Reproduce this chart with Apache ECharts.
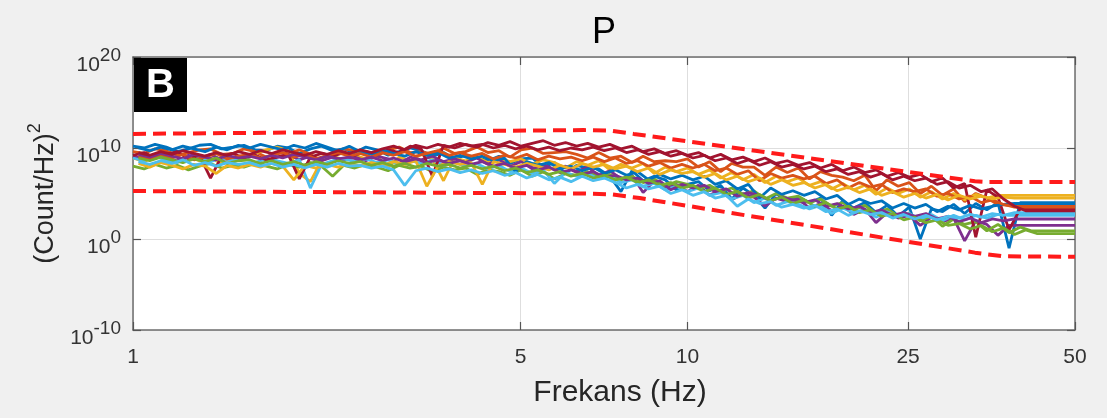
<!DOCTYPE html>
<html><head><meta charset="utf-8">
<script src="https://cdn.jsdelivr.net/npm/echarts@6/dist/echarts.min.js"></script>
<style>html,body{margin:0;padding:0;background:#f0f0f0}#c{width:1107px;height:418px}</style>
</head><body><div id="c"></div>
<script>
// Frequency grids (Hz)
const freqsA = [1.00,1.047,1.096,1.148,1.202,1.259,1.318,1.380,1.445,1.514,
1.585,1.660,1.738,1.820,1.905,1.995,2.089,2.188,2.291,2.399,
2.512,2.630,2.754,2.884,3.020,3.162,3.311,3.467,3.631,3.802,
3.981,4.169,4.365,4.571,4.786,5.012,5.248,5.495,5.754,6.026,
6.310,6.607,6.918,7.244,7.586,7.943,8.318,8.710,9.120,9.550,
10.00,10.47,10.96,11.48,12.02,12.59,13.18,13.80,14.45,15.14,
15.85,16.60,17.38,18.20,19.05,19.95,20.89,21.88,22.91,23.99,
25.12,26.30,27.54,28.84,30.20,31.62,33.11,34.67,36.31,38.02,
39.81,41.69,43.65,45.71,47.86,50.00];
const freqsB = [1.023,1.072,1.122,1.175,1.230,1.288,1.349,1.413,1.479,1.549,
1.622,1.698,1.778,1.862,1.950,2.042,2.138,2.239,2.344,2.455,
2.570,2.692,2.818,2.951,3.090,3.236,3.388,3.548,3.715,3.890,
4.074,4.266,4.467,4.677,4.898,5.129,5.370,5.623,5.888,6.166,
6.457,6.761,7.079,7.413,7.762,8.128,8.511,8.913,9.333,9.772,
10.23,10.72,11.22,11.75,12.30,12.88,13.49,14.13,14.79,15.49,
16.22,16.98,17.78,18.62,19.50,20.42,21.38,22.39,23.44,24.55,
25.70,26.92,28.18,29.51,30.90,32.36,33.88,35.48,37.15,38.90,
40.74,42.66,44.67,46.77,48.98,50.00];

const xTicks = [1,5,10,25,50];
const yTicks = [1e-10,1,1e10,1e20];

// Series values, log10 of (Count/Hz)^2 — first colour cycle (on freqsA)
const blueA = [10.2,10.0,10.4,10.1,9.6,9.9,10.3,10.4,9.9,10.1,
10.3,9.8,9.7,10.2,10.0,9.4,9.9,10.2,9.7,9.9,
9.5,10.1,9.8,9.2,9.6,10.0,9.7,9.1,9.5,8.8,
9.2,9.0,8.6,9.1,8.3,8.8,8.9,7.9,8.4,7.2,
8.1,7.8,7.7,6.9,5.2,7.5,6.4,6.9,6.5,5.4,
6.0,6.3,5.3,5.9,4.4,5.6,4.8,3.4,5.0,4.1,
4.6,4.0,4.5,2.6,4.2,3.4,4.0,2.9,3.7,2.5,
3.5,0.0,3.3,3.0,3.8,2.8,3.9,3.2,4.0,-1.0,
4.0,4.0,4.0,4.0,4.0,4.0];
const orangeA = [9.6,9.4,9.9,9.7,9.2,9.5,9.8,9.9,9.3,9.4,
9.9,9.6,9.0,9.5,9.4,9.8,9.3,8.6,9.4,9.9,
9.7,9.6,9.1,9.8,10.1,9.5,9.6,9.3,10.0,9.4,
9.6,10.1,9.5,9.7,9.0,9.8,10.0,9.4,9.5,9.6,
9.3,8.9,9.5,8.9,9.1,8.4,9.1,8.5,8.6,8.5,
8.8,7.9,8.5,7.4,8.3,7.9,7.9,7.0,7.9,7.3,
7.8,6.6,7.4,7.0,6.8,6.4,7.0,5.3,6.5,5.8,
6.2,5.0,5.8,4.8,5.5,4.1,5.0,4.5,3.8,3.7,
3.7,3.7,3.7,3.7,3.7,3.7];
const yellowA = [8.9,8.5,9.1,8.7,8.4,9.0,8.6,8.9,8.3,8.8,
9.0,9.4,9.8,10.1,9.7,7.2,6.3,8.6,9.1,8.7,
9.2,8.8,9.1,7.9,9.0,8.6,9.3,8.8,6.4,8.9,
8.6,9.0,8.4,8.9,8.5,8.8,8.2,8.7,8.4,7.8,
8.5,8.1,8.6,7.6,8.2,7.8,8.3,7.2,7.9,7.4,
7.8,7.1,7.6,6.7,7.3,6.5,7.1,6.2,6.9,6.3,
6.7,5.9,6.3,5.5,6.1,5.4,5.9,4.9,5.6,5.0,
5.5,4.6,5.2,4.4,5.0,4.3,4.9,4.5,4.8,4.8,
4.8,4.8,4.8,4.8,4.8,4.8];
const purpleA = [9.1,8.8,9.3,8.9,8.6,9.2,8.9,9.3,8.7,9.0,
8.8,9.2,8.6,9.0,9.3,8.7,9.1,8.6,9.0,8.7,
9.0,8.6,9.1,8.8,8.3,9.0,8.7,9.1,8.5,8.8,
8.4,8.9,8.2,8.7,8.0,8.5,7.7,8.2,7.6,8.0,
7.4,7.9,7.0,7.5,6.6,7.0,5.1,6.4,5.5,6.0,
5.2,5.9,4.8,5.4,4.3,5.0,4.6,3.6,4.5,4.1,
4.4,3.4,3.9,3.1,3.6,2.7,3.3,1.8,2.9,2.3,
2.6,1.5,2.4,1.9,2.3,-0.2,2.0,1.6,0.4,1.5,
1.5,1.5,1.5,1.5,1.5,1.5];
const greenA = [8.0,7.7,8.2,7.8,8.1,7.6,8.0,8.3,7.8,8.1,
7.9,8.3,8.0,7.7,8.2,7.9,8.4,8.0,6.9,8.1,
7.8,8.2,7.9,7.5,8.1,7.8,8.0,7.4,7.9,7.6,
7.8,7.1,7.6,7.4,7.0,7.6,6.9,7.4,6.6,7.2,
7.0,7.4,6.8,7.1,6.5,6.9,6.2,6.6,5.8,6.3,
6.0,5.5,5.9,5.2,5.6,4.9,5.3,4.4,5.0,4.5,
4.7,4.0,4.4,3.6,4.0,3.2,3.7,2.8,3.3,2.5,
2.8,2.0,2.5,1.4,2.2,1.6,1.9,0.9,1.6,0.7,
1.3,0.9,0.9,0.9,0.9,0.9];
const lightBlueA = [8.9,8.6,9.1,8.7,8.4,9.0,8.8,8.5,8.9,8.6,
8.9,8.4,8.8,8.6,8.3,8.7,5.6,8.2,8.6,8.8,
8.5,8.8,8.4,8.7,8.2,8.6,8.3,8.7,8.1,8.4,
8.0,8.3,7.7,8.1,7.4,7.8,7.2,7.6,6.1,7.3,
6.9,7.2,6.6,6.9,6.2,6.5,5.8,6.1,5.4,5.8,
5.2,5.6,4.8,5.1,4.4,4.8,4.0,4.5,3.7,4.1,
3.8,3.3,3.7,2.8,3.4,2.9,3.2,2.4,3.0,2.5,
2.8,2.2,2.7,2.0,2.6,2.1,2.6,2.3,2.7,2.6,
2.6,2.6,2.6,2.6,2.6,2.6];
const darkRedA = [9.2,9.5,8.9,9.3,9.6,8.8,9.2,6.7,9.1,9.4,
8.9,9.2,8.7,9.0,9.3,6.6,9.0,9.4,9.1,9.5,
9.2,9.6,9.3,9.8,9.5,10.2,9.9,6.9,10.3,10.0,
10.4,10.1,10.6,10.3,10.7,10.2,10.5,10.8,10.3,10.6,
10.2,10.5,10.1,10.4,9.9,10.2,9.6,9.9,9.4,9.7,
9.2,9.5,8.9,9.3,8.7,9.0,8.5,8.9,8.3,8.6,
8.1,8.4,7.8,8.2,7.5,7.9,7.3,7.6,6.9,7.3,
6.8,7.1,6.3,6.7,5.6,6.1,0.2,5.4,4.6,1.0,
3.3,3.3,3.3,3.3,3.3,3.3];

// Second colour cycle (on freqsB)
const blueB = [10.0,9.7,10.1,9.8,10.2,9.9,9.6,10.1,9.8,10.3,
10.0,10.4,10.1,9.8,10.3,10.0,10.5,10.1,9.7,10.2,
9.6,9.3,9.8,9.4,9.1,9.6,9.2,9.5,8.9,9.2,
8.8,9.1,8.6,8.9,7.4,8.5,8.1,8.4,7.7,8.0,
7.5,7.9,7.2,7.6,7.0,7.4,6.5,7.1,6.6,7.0,
6.5,6.9,6.0,6.4,5.5,6.0,4.5,5.6,4.9,5.3,
4.8,5.2,4.4,4.8,3.8,4.4,3.9,4.2,3.4,3.9,
3.4,3.8,3.0,3.6,3.2,3.7,3.3,3.6,3.8,3.9,
3.9,3.9,3.9,3.9,3.9,3.9];
const orangeB = [9.1,8.8,9.2,8.9,9.3,8.7,9.0,9.4,8.8,9.1,
9.3,8.9,9.2,9.5,9.0,9.3,8.8,9.2,9.5,9.1,
9.4,9.0,9.5,9.2,9.6,9.1,9.4,9.7,9.2,9.5,
9.1,9.4,8.8,9.2,8.9,9.3,8.7,9.1,8.8,9.0,
8.6,9.0,8.5,8.9,8.3,8.6,8.0,8.4,7.8,8.2,
7.8,8.2,7.5,7.8,7.1,7.5,6.4,7.2,6.7,7.0,
6.6,6.9,6.1,6.5,5.6,6.2,5.7,6.0,5.1,5.5,
5.2,5.5,4.7,5.0,4.4,4.7,4.0,4.3,3.8,3.5,
3.5,3.5,3.5,3.5,3.5,3.5];
const yellowB = [8.3,7.9,8.4,8.1,7.7,8.2,8.0,7.2,8.1,7.8,
8.2,7.9,8.3,8.0,6.5,8.1,7.8,8.2,7.9,8.3,
8.0,8.4,8.1,8.5,8.2,8.6,5.8,8.0,8.5,8.2,
8.4,6.0,8.5,8.2,7.9,8.3,8.0,7.6,8.1,7.7,
8.3,7.9,8.2,7.7,8.0,7.4,7.8,7.1,7.6,7.2,
7.4,6.8,7.2,6.5,6.9,6.3,6.7,6.0,6.5,5.9,
6.2,5.6,6.0,5.3,5.7,5.1,5.5,4.8,5.2,4.6,
5.0,4.5,4.9,4.3,4.8,4.4,4.7,4.4,4.6,4.5,
4.5,4.5,4.5,4.5,4.5,4.5];
const purpleB = [9.3,9.0,9.4,9.1,8.8,9.3,9.0,8.7,9.2,8.9,
9.1,8.8,9.2,8.9,9.3,9.0,8.7,9.1,8.8,9.0,
8.7,9.0,8.6,8.9,8.5,8.8,8.4,8.7,8.3,8.6,
8.2,8.5,8.0,8.3,7.8,8.1,7.6,7.9,7.3,7.6,
7.1,7.4,6.8,7.0,6.5,6.7,6.1,6.4,5.4,6.0,
5.6,5.9,5.2,5.5,4.7,5.1,4.8,4.2,4.6,4.3,
4.0,4.3,3.6,3.9,3.3,3.6,2.9,3.2,2.6,2.9,
2.5,2.8,2.2,2.5,1.9,2.3,1.8,2.2,2.0,2.2,
2.2,2.2,2.2,2.2,2.2,2.2];
const greenB = [8.9,8.6,9.0,8.7,8.4,8.8,8.5,8.9,8.3,8.6,
8.7,8.3,8.6,8.2,8.5,8.1,8.5,8.2,8.6,8.3,
8.5,8.1,8.4,8.0,8.3,7.9,8.3,8.0,8.2,7.8,
8.1,7.7,8.0,7.5,7.8,7.3,7.6,7.1,7.4,6.9,
7.2,6.7,7.0,6.5,6.8,6.2,6.5,5.9,6.2,5.6,
5.9,5.2,5.6,4.9,5.2,4.5,4.9,4.2,4.6,3.9,
4.3,3.6,4.0,3.3,3.6,2.9,3.2,2.5,2.8,2.1,
2.4,1.8,2.1,1.5,1.7,1.1,1.5,0.8,1.2,0.5,
1.0,0.6,0.6,0.6,0.6,0.6];
const lightBlueB = [8.5,8.2,8.6,8.3,8.7,8.1,8.4,8.0,8.4,8.2,
8.4,8.0,8.3,7.9,8.2,7.8,8.2,7.9,8.3,8.0,
8.1,7.8,8.0,7.6,5.9,7.5,7.8,7.4,7.7,7.3,
7.6,7.2,7.5,7.0,7.3,6.7,7.1,6.5,6.8,6.3,
6.9,6.4,6.7,6.2,5.6,6.0,5.5,5.8,5.0,5.4,
4.8,5.2,4.5,4.8,3.6,4.4,3.9,4.1,3.5,3.8,
3.4,3.7,3.0,3.3,2.6,3.1,2.7,2.9,2.3,2.7,
2.2,2.6,2.1,2.5,2.3,2.7,2.4,2.8,2.6,2.9,
2.9,2.9,2.9,2.9,2.9,2.9];
const darkRedB = [9.5,9.2,9.6,9.3,9.7,9.4,9.1,9.5,9.2,9.6,
9.3,9.7,9.4,9.8,9.5,9.2,9.6,9.3,9.7,9.4,
9.8,9.5,9.9,10.2,9.8,10.3,10.0,10.4,10.1,10.5,
10.2,10.4,10.0,10.3,9.9,10.2,9.8,10.1,9.7,10.0,
9.8,10.1,9.7,10.0,9.5,9.8,9.3,9.6,9.1,9.4,
8.9,9.2,8.6,8.9,8.3,8.7,8.1,8.5,7.9,8.2,
7.7,8.0,7.4,7.7,7.1,7.4,6.8,7.2,6.5,6.9,
6.4,6.7,6.0,6.3,5.6,5.9,5.2,5.5,4.4,3.6,
3.1,3.1,3.1,3.1,3.1,3.1];

// Envelope (red dashed)
const upperFreq = [1,6.5,7.3,8,33,35,50];
const upperExp = [11.55,11.97,11.9,11.55,6.35,6.26,6.26];
const lowerFreq = [1,6.5,7.3,8.2,33,37,50];
const lowerExp = [5.27,5.0,4.9,4.5,-1.5,-1.9,-1.95];

const FONT = "'Liberation Sans', Arial, Helvetica, sans-serif";
const C = {blue:'#0072BD', orange:'#D95319', yellow:'#EDB120', purple:'#7E2F8E', green:'#77AC30', lightBlue:'#4DBEEE', darkRed:'#A2142F'};
const traces = [
  {color:C.blue, f:freqsA, exp:blueA}, {color:C.orange, f:freqsA, exp:orangeA},
  {color:C.yellow, f:freqsA, exp:yellowA}, {color:C.purple, f:freqsA, exp:purpleA},
  {color:C.green, f:freqsA, exp:greenA}, {color:C.lightBlue, f:freqsA, exp:lightBlueA},
  {color:C.darkRed, f:freqsA, exp:darkRedA},
  {color:C.blue, f:freqsB, exp:blueB}, {color:C.orange, f:freqsB, exp:orangeB},
  {color:C.yellow, f:freqsB, exp:yellowB}, {color:C.purple, f:freqsB, exp:purpleB},
  {color:C.green, f:freqsB, exp:greenB}, {color:C.lightBlue, f:freqsB, exp:lightBlueB},
  {color:C.darkRed, f:freqsB, exp:darkRedB}
];
const toPts = (fs, es) => fs.map((f, i) => [f, Math.pow(10, es[i])]);

const series = traces.map((t, i) => ({
  type:'line', name:'s' + (i + 1), data: toPts(t.f, t.exp),
  xAxisIndex:0, yAxisIndex:0, showSymbol:false, symbol:'none', z:2 + i * 0.01,
  lineStyle:{color:t.color, width:2.8}, itemStyle:{color:t.color},
  animation:false, silent:true
}));
[[upperFreq, upperExp], [lowerFreq, lowerExp]].forEach((p, i) => {
  series.push({
    type:'line', name: i ? 'lower' : 'upper', data: toPts(p[0], p[1]),
    showSymbol:false, symbol:'none', z:5,
    lineStyle:{color:'#ff1a1a', width:4, type:[13,7]},
    animation:false, silent:true
  });
});

const baseX = {
  type:'log', logBase:10, min:1, max:50,
  axisLine:{show:true, onZero:false, lineStyle:{color:'#6e6e6e', width:1.5}},
  axisTick:{show:true, inside:true, length:8, customValues:xTicks, lineStyle:{color:'#555', width:1.2}},
  minorTick:{show:false}, minorSplitLine:{show:false}
};
const baseY = {
  type:'log', logBase:10, min:1e-10, max:1e20, interval:10,
  axisLine:{show:true, onZero:false, lineStyle:{color:'#6e6e6e', width:1.5}},
  axisTick:{show:true, inside:true, length:8, customValues:yTicks, lineStyle:{color:'#555', width:1.2}},
  minorTick:{show:false}, minorSplitLine:{show:false}
};

const option = {
  backgroundColor:'#f0f0f0',
  animation:false,
  grid:{left:133, top:57, right:32, bottom:88, containLabel:false, show:true, backgroundColor:'#ffffff', borderWidth:0},
  xAxis:[
    Object.assign({}, baseX, {
      position:'bottom',
      axisLabel:{show:true, customValues:xTicks, formatter: v => String(Math.round(v)), fontSize:21, color:'#333', margin:17, fontFamily:FONT},
      splitLine:{show:true, lineStyle:{color:'#dedede', width:1}},
      name:'Frekans (Hz)', nameLocation:'middle', nameGap:48,
      nameTextStyle:{fontSize:30, color:'#262626', fontFamily:FONT, padding:[0,0,0,32]}
    }),
    Object.assign({}, baseX, {position:'top', axisLabel:{show:false}, splitLine:{show:false}})
  ],
  yAxis:[
    Object.assign({}, baseY, {
      position:'left',
      axisLabel:{show:true, customValues:yTicks, margin:12,
        formatter: v => '{b|10}{s|' + Math.round(Math.log10(v)) + '}',
        rich:{
          b:{fontSize:21, color:'#333', fontFamily:FONT, padding:[16,0,0,0]},
          s:{fontSize:19, color:'#333', fontFamily:FONT, padding:[0,0,2,0]}
        }},
      splitLine:{show:true, lineStyle:{color:'#dedede', width:1}},
      name:'{n|(Count/Hz)}{p|2}', nameLocation:'middle', nameGap:74, nameRotate:90,
      nameTextStyle:{rich:{
        n:{fontSize:27, color:'#262626', fontFamily:FONT, padding:[10,0,0,0]},
        p:{fontSize:18, color:'#262626', fontFamily:FONT, padding:[0,0,10,0]}
      }}
    }),
    Object.assign({}, baseY, {position:'right', axisLabel:{show:false}, splitLine:{show:false}})
  ],
  graphic:[
    {type:'text', x:604, y:33, z:100, style:{text:'P', fontSize:36, fill:'#000', align:'center', verticalAlign:'middle', fontFamily:FONT}},
    {type:'rect', z:100, shape:{x:134, y:58, width:53, height:54}, style:{fill:'#000'}},
    {type:'text', x:160.5, y:86, z:101, style:{text:'B', fontSize:40, fontWeight:'bold', fill:'#fff', align:'center', verticalAlign:'middle', fontFamily:FONT}}
  ],
  series: series
};
const chart = echarts.init(document.getElementById('c'), null, {renderer:'canvas'});
chart.setOption(option);
</script>
</body></html>
